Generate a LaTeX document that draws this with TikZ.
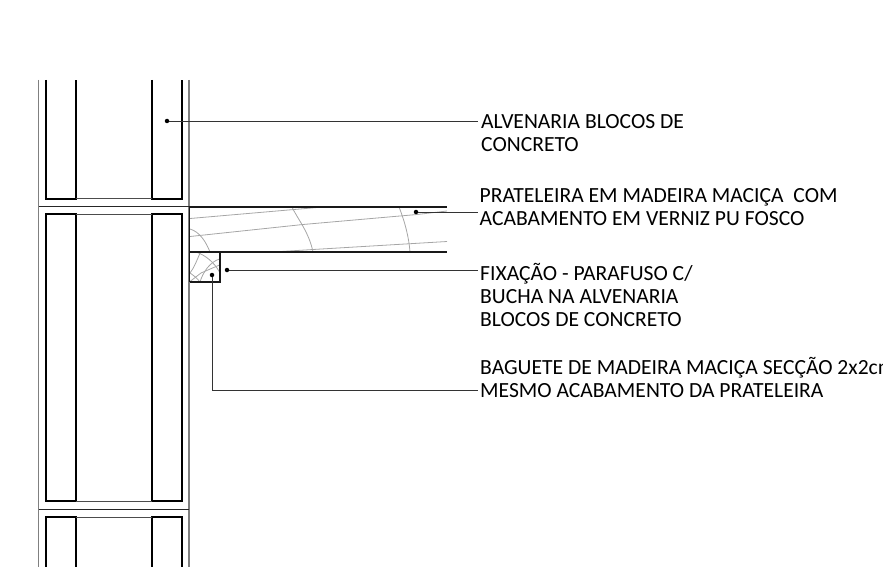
\documentclass[tikz,border=0pt]{standalone}
\usepackage{fontspec}
\setmainfont{Carlito}
\tikzset{
 x=1pt,y=-1pt,
 wall/.style={draw=black!50,line width=1.3pt},
 block/.style={draw=black,line width=2pt,line join=miter},
 thinl/.style={draw=black!70,line width=.8pt},
 joint/.style={draw=black!85,line width=1.2pt},
 shelf/.style={draw=black!90,line width=1.6pt},
 grain/.style={draw=black!35,line width=.8pt},
 leader/.style={draw=black!80,line width=.8pt},
 pin/.style={circle,fill=black,inner sep=0pt,minimum size=4.5pt},
 lbl/.style={anchor=north west,inner sep=0pt,font=\fontsize{21.6}{23}\selectfont,text=black,align=left},
}
\begin{document}
\begin{tikzpicture}
\useasboundingbox (0,0) rectangle (883,567);
\clip (0,0) rectangle (883,567);
% walls
\draw[wall] (38.5,80) -- (38.5,567);
\draw[wall] (189,80) -- (189,567);
% block cavities
\foreach \a/\b in {45.5/75.5,151.5/181.5}{
 \draw[block] (\a,80) -- (\a,198.5) -- (\b,198.5) -- (\b,80);
 \draw[block] (\a,214) rectangle (\b,501.3);
 \draw[block] (\a,567) -- (\a,517) -- (\b,517) -- (\b,567);
}
\foreach \y in {198.5,214,501.3,517}{\draw[thinl] (75.5,\y) -- (151.5,\y);}
% joints
\draw[joint] (38.5,206.7) -- (189,206.7);
\draw[joint] (38.5,509.3) -- (189,509.3);
% grain
\draw[grain] (190,218.5) -- (323,207);
\draw[grain] (190,236.5) -- (303,224.5) -- (417,214.5) -- (447,211);
\draw[grain] (273,252) -- (313,249.5) -- (447,241.5);
\draw[grain] (292,207) .. controls (297,218) and (309,232) .. (313,252);
\draw[grain] (399,207) .. controls (405,222) and (409,238) .. (410,252);
\draw[grain] (190,229) .. controls (200,232) and (206,242) .. (210,252);
\draw[grain] (200.5,252) .. controls (197,260) and (194,268) .. (190,273);
\draw[grain] (219.5,259) .. controls (210,262) and (203,272) .. (200,282);
\draw[grain] (190,273) .. controls (193,275) and (197,278) .. (200,282);
\draw[grain] (190,281.5) -- (201,273) -- (219.5,265);
\draw[grain] (196,252) .. controls (205,255) and (214,262) .. (219.5,272);
% shelf and batten
\draw[shelf] (189,206.7) -- (446.7,206.7);
\draw[shelf] (189,252) -- (446.7,252);
\draw[draw=black!90,line width=1.3pt] (189.5,207) -- (189.5,282);
\draw[draw=black!90,line width=1.3pt] (220,252) -- (220,282) -- (189.5,282);
% labels
\node[lbl] (l1) at (481,114.5) {ALVENARIA BLOCOS DE\\CONCRETO};
\node[lbl] (l2) at (479.5,188.5) {PRATELEIRA EM MADEIRA MACIÇA\ \ COM\\ACABAMENTO EM VERNIZ PU FOSCO};
\node[lbl] (l3) at (480,263) {FIXAÇÃO - PARAFUSO C/\\BUCHA NA ALVENARIA\\BLOCOS DE CONCRETO};
\node[lbl] (l4) at (480,357.5) {BAGUETE DE MADEIRA MACIÇA SECÇÃO 2x2cm\\MESMO ACABAMENTO DA PRATELEIRA};
% leaders
\node[pin] (p1) at (167,121) {};
\node[pin] (p2) at (416,212) {};
\node[pin] (p3) at (227,270) {};
\node[pin] (p4) at (212,275) {};
\coordinate (e1) at (478,121);
\coordinate (e2) at (478,212);
\coordinate (e3) at (478,270);
\coordinate (e4) at (478,390);
\draw[leader] (p1) -- (e1);
\draw[leader] (p2) -- (e2);
\draw[leader] (p3) -- (e3);
\draw[leader] (p4) |- (e4);
\end{tikzpicture}
\end{document}
